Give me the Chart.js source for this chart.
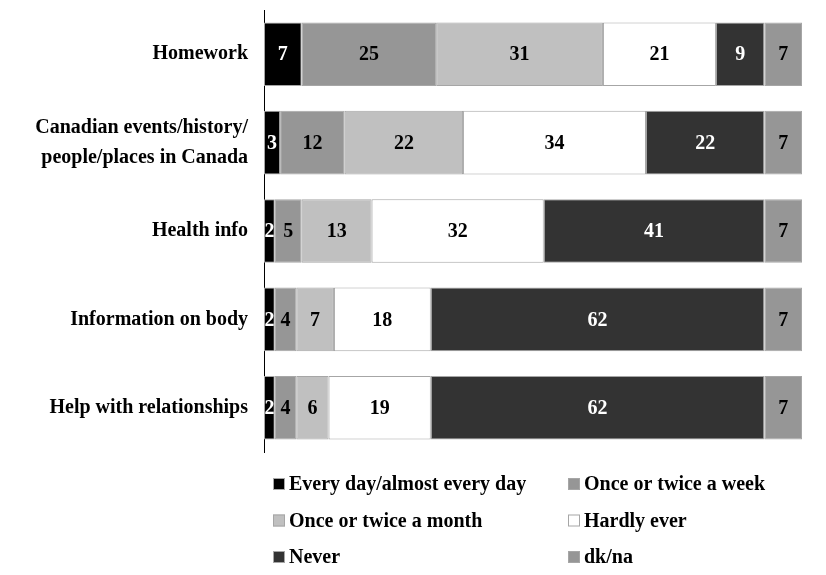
<!DOCTYPE html>
<html>
<head>
<meta charset="utf-8">
<script src="https://cdn.jsdelivr.net/npm/chart.js@4.4.0/dist/chart.umd.min.js"></script>
<style>
  body { margin: 0; background: #fff; }
</style>
</head>
<body>
<canvas id="chart" width="826" height="575"></canvas>
<script>
var categories = ['Homework', ['Canadian events/history/', 'people/places in Canada'], 'Health info', 'Information on body', 'Help with relationships'];
var seriesNames = ['Every day/almost every day', 'Once or twice a week', 'Once or twice a month', 'Hardly ever', 'Never', 'dk/na'];
var everyDay = [7, 3, 2, 2, 2];
var weekly = [25, 12, 5, 4, 4];
var monthly = [31, 22, 13, 7, 6];
var hardlyEver = [21, 34, 32, 18, 19];
var never = [9, 22, 41, 62, 62];
var dkna = [7, 7, 7, 7, 7];

var fills = ['#000000', '#969696', '#c0c0c0', '#ffffff', '#333333', '#969696'];
var labelColors = ['#fff', '#000', '#000', '#000', '#fff', '#000'];
var serif = '"Liberation Serif", "DejaVu Serif", serif';

var allSeries = [everyDay, weekly, monthly, hardlyEver, never, dkna];
var datasets = allSeries.map(function (vals, i) {
    return {
        label: seriesNames[i],
        data: vals,
        backgroundColor: fills[i],
        borderColor: '#a6a6a6',
        borderWidth: 1,
        borderSkipped: false,
        barPercentage: 0.72,
        categoryPercentage: 1
    };
});

// values written in the middle of each segment
var valueLabels = {
    id: 'valueLabels',
    afterDatasetsDraw: function (chart) {
        var ctx = chart.ctx;
        ctx.save();
        ctx.font = 'bold 20px ' + serif;
        ctx.textAlign = 'center';
        ctx.textBaseline = 'middle';
        chart.data.datasets.forEach(function (ds, i) {
            var meta = chart.getDatasetMeta(i);
            meta.data.forEach(function (bar, j) {
                var p = bar.getProps(['x', 'y', 'base'], true);
                ctx.fillStyle = labelColors[i];
                ctx.fillText(ds.data[j], (p.x + p.base) / 2, p.y + 1);
            });
        });
        ctx.restore();
    }
};

// two column legend under the plot
var gridLegend = {
    id: 'gridLegend',
    afterDraw: function (chart) {
        var ctx = chart.ctx;
        ctx.save();
        ctx.font = 'bold 20px ' + serif;
        ctx.textBaseline = 'middle';
        ctx.textAlign = 'left';
        chart.data.datasets.forEach(function (ds, i) {
            var col = i % 2, row = Math.floor(i / 2);
            var x = col === 0 ? 273 : 568;
            var y = 484 + row * 36.5;
            ctx.fillStyle = ds.backgroundColor;
            ctx.fillRect(x, y - 6, 12, 12);
            ctx.strokeStyle = '#a6a6a6';
            ctx.lineWidth = 1;
            ctx.strokeRect(x + 0.5, y - 5.5, 11, 11);
            ctx.fillStyle = '#000';
            ctx.fillText(ds.label, x + 16, y + 1);
        });
        ctx.restore();
    }
};

new Chart(document.getElementById('chart').getContext('2d'), {
    type: 'bar',
    data: { labels: categories, datasets: datasets },
    options: {
        indexAxis: 'y',
        responsive: false,
        animation: false,
        layout: { padding: { top: 10, right: 24, bottom: 123, left: 0 } },
        plugins: {
            legend: { display: false },
            tooltip: { enabled: false }
        },
        scales: {
            x: {
                stacked: true,
                min: 0,
                max: 100,
                display: false
            },
            y: {
                stacked: true,
                grid: { display: false },
                border: { display: true, color: '#000', width: 1 },
                ticks: {
                    color: '#000',
                    padding: 8,
                    font: { family: serif, size: 20, weight: 'bold', lineHeight: 1.5 }
                },
                afterFit: function (scale) {
                    scale.width = 264;
                    scale.paddingTop = 0;
                    scale.paddingBottom = 0;
                }
            }
        }
    },
    plugins: [valueLabels, gridLegend]
});
</script>
</body>
</html>
